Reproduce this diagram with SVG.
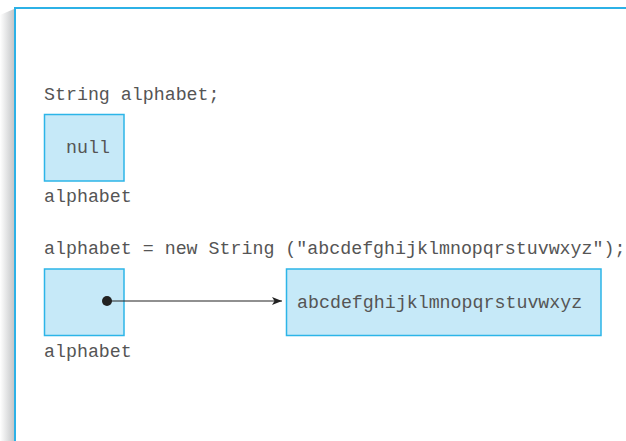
<svg xmlns="http://www.w3.org/2000/svg" width="626" height="441" viewBox="0 0 626 441">
<defs>
<linearGradient id="sh" x1="0" y1="0" x2="1" y2="0">
<stop offset="0" stop-color="#ffffff"/>
<stop offset="1" stop-color="#c4c6c8"/>
</linearGradient>
<marker id="arr" viewBox="0 0 10 10" refX="10" refY="5" markerWidth="10" markerHeight="10" markerUnits="userSpaceOnUse" orient="auto">
<path d="M0,1 L10,5 L0,9 L2.5,5 Z" fill="#222"/>
</marker>
<style>
.t{font-family:"Liberation Mono","Courier New",monospace;font-size:18.3px;fill:#555}
.box{fill:#c6e9f8;stroke:#2cb5e8;stroke-width:1.5}
</style>
</defs>
<rect width="626" height="441" fill="#fff"/>
<g id="frame">
<polygon points="0,15 14,9 14,441 0,441" fill="url(#sh)"/>
<path d="M15,441 V8 H626" fill="none" stroke="#2cb1e6" stroke-width="2"/>
</g>
<g id="decl">
<text class="t" x="44" y="100">String alphabet;</text>
</g>
<g id="nullVar">
<rect class="box" x="44.5" y="114.5" width="79.5" height="66.5"/>
<text class="t" x="66" y="153">null</text>
<text class="t" x="44" y="202">alphabet</text>
</g>
<g id="assign">
<text class="t" x="44" y="254">alphabet = new String ("abcdefghijklmnopqrstuvwxyz");</text>
</g>
<g id="refVar">
<rect class="box" x="44.5" y="269" width="79.5" height="66.5"/>
<text class="t" x="44" y="357">alphabet</text>
</g>
<g id="strObj">
<rect class="box" x="286.5" y="269" width="314.5" height="66.5"/>
<text class="t" x="297" y="308">abcdefghijklmnopqrstuvwxyz</text>
</g>
<g id="connectors">
<circle cx="107" cy="301" r="5" fill="#222"/>
<line x1="107" y1="301" x2="282" y2="301" stroke="#222" stroke-width="1.2" marker-end="url(#arr)"/>
</g>
</svg>
